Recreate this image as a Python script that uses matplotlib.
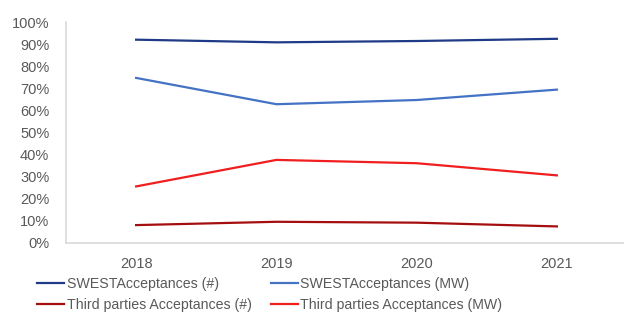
import matplotlib
matplotlib.use("Agg")
import matplotlib.pyplot as plt
from matplotlib.ticker import PercentFormatter

years = ["2018", "2019", "2020", "2021"]
swest_count = [92.0, 90.8, 91.4, 92.4]
swest_mw = [74.7, 62.8, 64.7, 69.4]
third_count = [8.1, 9.6, 9.2, 7.5]
third_mw = [25.6, 37.6, 36.1, 30.6]

series = [
    ("SWESTAcceptances (#)", swest_count, "#1F3A86"),
    ("SWESTAcceptances (MW)", swest_mw, "#4472C4"),
    ("Third parties Acceptances (#)", third_count, "#A50E0E"),
    ("Third parties Acceptances (MW)", third_mw, "#F01E1E"),
]

plt.rcParams["font.family"] = ["Liberation Sans", "DejaVu Sans"]
W, H = 624, 322
fig = plt.figure(figsize=(W / 100, H / 100), dpi=100)
ax = fig.add_axes([66 / W, 1 - 243 / H, 561 / W, 221 / H])

x = range(len(years))
handles = []
for label, vals, color in series:
    (ln,) = ax.plot(x, vals, color=color, lw=1.6, label=label,
                    solid_joinstyle="round")
    handles.append(ln)

ax.set_xlim(-0.5, 3.5)
ax.set_ylim(0, 100)
ax.set_yticks(range(0, 101, 10))
ax.yaxis.set_major_formatter(PercentFormatter(decimals=0))
ax.set_xticks(list(x))
ax.set_xticklabels(years)
ax.tick_params(axis="both", length=0, labelsize=10.5, labelcolor="#595959")
ax.tick_params(axis="x", pad=10)
ax.tick_params(axis="y", pad=12)
for side in ("top", "right"):
    ax.spines[side].set_visible(False)
for side in ("left", "bottom"):
    ax.spines[side].set_color("#D9D9D9")
    ax.spines[side].set_linewidth(1.2)

# legend reads row by row: SWEST pair on top, third parties below
order = [0, 2, 1, 3]
fig.legend(handles=[handles[i] for i in order], loc="upper left",
           bbox_to_anchor=(37 / W, 1 - 277 / H), ncol=2, frameon=False,
           fontsize=10.15, labelcolor="#595959", handlelength=1.95,
           handletextpad=0.15, columnspacing=1.35, labelspacing=0.5,
           borderaxespad=0, borderpad=0)

fig.savefig("out.png", dpi=100)
